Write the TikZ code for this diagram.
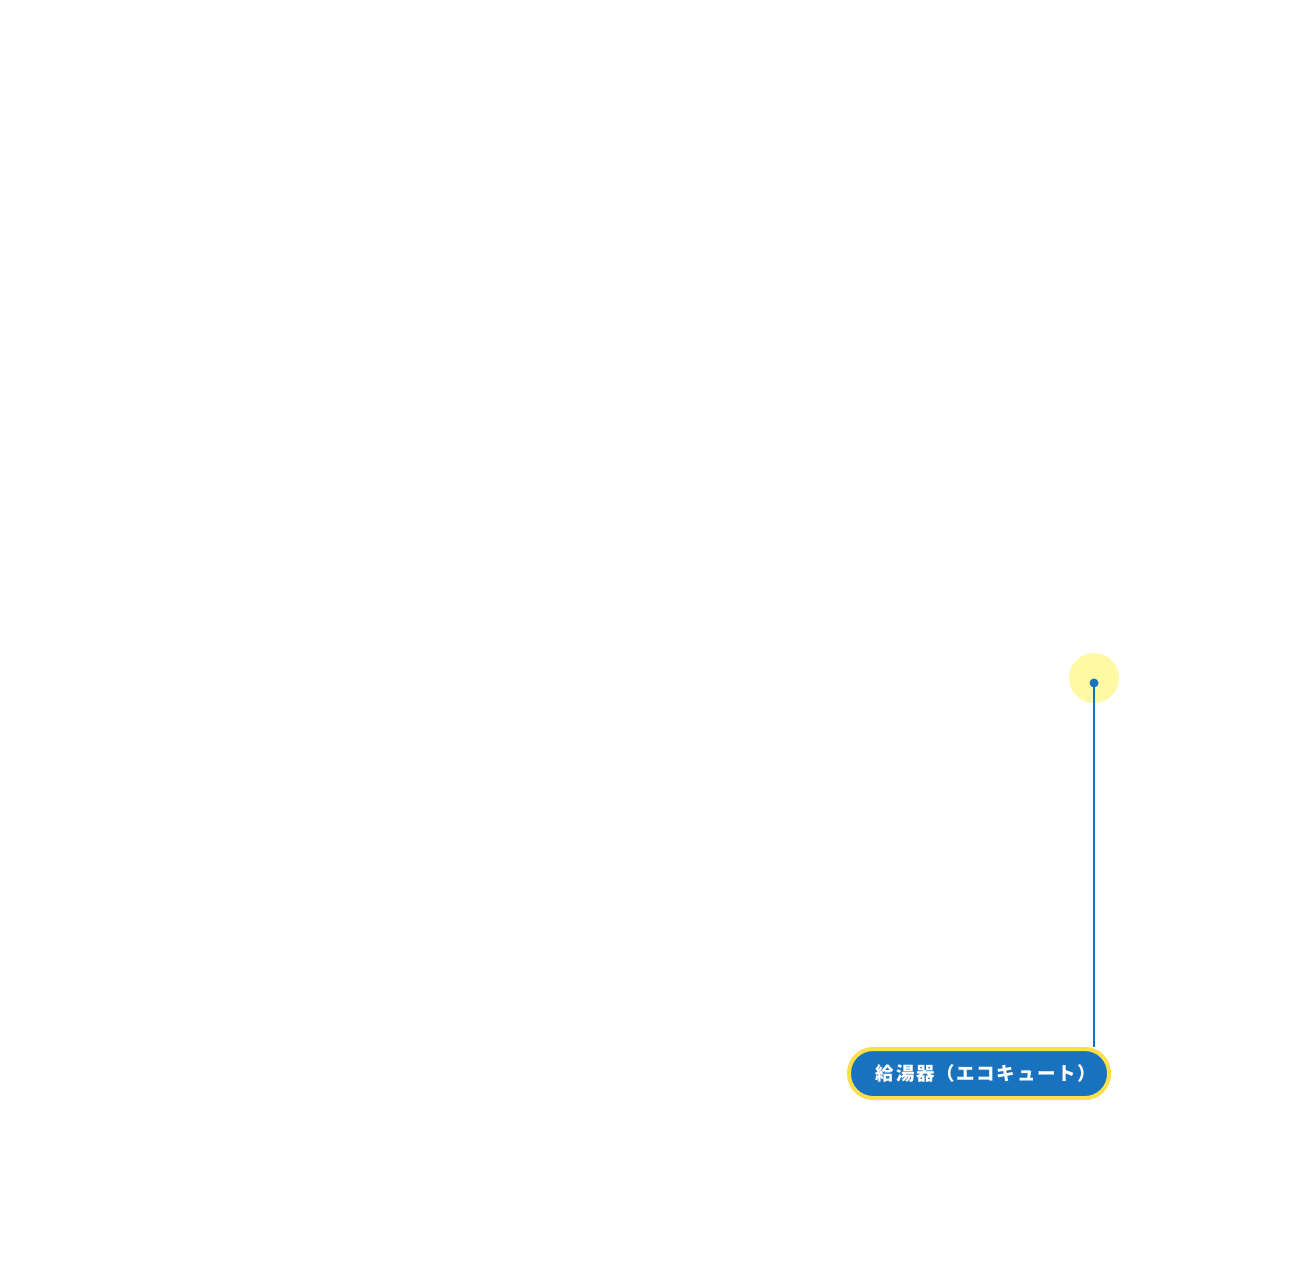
\documentclass[tikz,border=0pt]{standalone}
\usepackage{fontspec}
\newfontfamily\jpfont{Noto Sans CJK JP}[LetterSpace=9]
\usetikzlibrary{positioning}
\definecolor{HeaterBlue}{HTML}{1872BE}
\definecolor{HeaterGold}{HTML}{FBDF4B}
\definecolor{HeaterGlow}{HTML}{FFF9A3}

\begin{document}
\begin{tikzpicture}[x=1pt,y=-1pt,
    glowspot/.style={circle, fill=HeaterGlow, inner sep=0pt, minimum size=50pt},
    pindot/.style={circle, fill=HeaterBlue, inner sep=0pt, minimum size=9pt},
    tagpill/.style={draw=HeaterGold, fill=HeaterBlue, line width=4pt, rounded corners=24pt,
      minimum width=260pt, minimum height=49pt, inner sep=0pt, text=white,
      font=\jpfont\bfseries\fontsize{18.5pt}{20pt}\selectfont}]
    \useasboundingbox (0,0) rectangle (1300,1280);
    \node[glowspot] (glow) at (1094,678) {};
    \node[pindot] (pin) at (1094,683) {};
    \node[tagpill] (heater) at (979,1073.5) {\hspace*{14pt}給湯器（エコキュート）};
    \draw[HeaterBlue, line width=1.2pt] (pin.center) -- (pin |- heater.north);
  \end{tikzpicture}
\end{document}
